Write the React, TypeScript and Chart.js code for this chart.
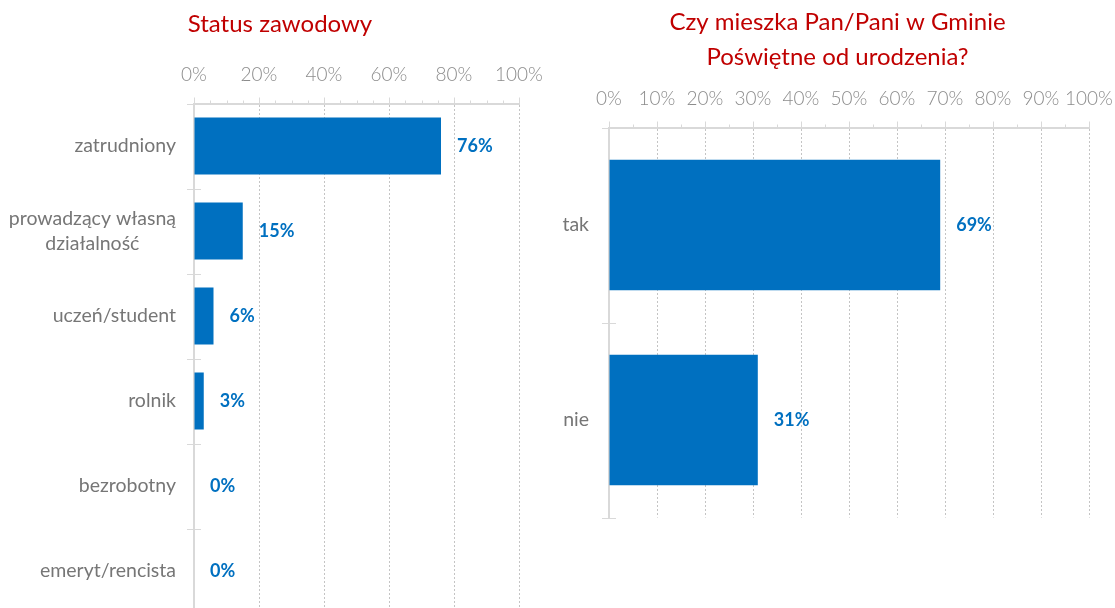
import React, { useEffect, useRef } from "react";
import { Chart, registerables } from "chart.js";
Chart.register(...registerables);

// ---- data ----
const statusTitle = ["Status zawodowy"];
const statusCategories = [
  ["zatrudniony"],
  ["prowadzący własną", "działalność"],
  ["uczeń/student"],
  ["rolnik"],
  ["bezrobotny"],
  ["emeryt/rencista"],
];
const statusValues = [76, 15, 6, 3, 0, 0];
const statusMajorTicks = [0, 20, 40, 60, 80, 100];

const birthTitle = ["Czy mieszka Pan/Pani w Gminie", "Poświętne od urodzenia?"];
const birthCategories = [["tak"], ["nie"]];
const birthValues = [69, 31];
const birthMajorTicks = [0, 10, 20, 30, 40, 50, 60, 70, 80, 90, 100];

const BLUE = "#0070c0";
const AXIS = "#d9d9d9";
const FONT = "Lato, 'Open Sans', sans-serif";

const decorPlugin = {
  id: "decor",
  afterDraw(chart: any, _args: any, opts: any) {
    const ctx = chart.ctx;
    const { left, top, bottom } = chart.chartArea;
    const xs = chart.scales.x;
    ctx.save();
    // titles
    ctx.fillStyle = "#c00000";
    ctx.font = `24px ${FONT}`;
    ctx.textAlign = "center";
    ctx.textBaseline = "middle";
    opts.title.forEach((t: string, i: number) =>
      ctx.fillText(t, chart.width / 2, opts.titleY[i])
    );
    // x-axis tick marks (major + minor)
    ctx.strokeStyle = AXIS;
    ctx.lineWidth = 1;
    xs.ticks.forEach((t: any) => {
      const x = Math.round(xs.getPixelForValue(t.value)) + 0.5;
      const major = opts.major.includes(t.value);
      ctx.beginPath();
      ctx.moveTo(x, top - (major ? 6 : 3));
      ctx.lineTo(x, top);
      ctx.stroke();
    });
    // category boundary ticks crossing the y axis
    const n = chart.data.labels.length;
    for (let i = 0; i <= n; i++) {
      const y = Math.round(top + ((bottom - top) * i) / n) + 0.5;
      ctx.beginPath();
      ctx.moveTo(left - 7, y);
      ctx.lineTo(left + 7, y);
      ctx.stroke();
    }
    // category labels: block right-aligned, lines centred within the block
    const ys = chart.scales.y;
    ctx.font = `19.5px ${FONT}`;
    ctx.fillStyle = "#767676";
    ctx.textAlign = "center";
    const lh = 25;
    chart.data.labels.forEach((lab: string[], i: number) => {
      const yc = ys.getPixelForValue(i);
      const w = Math.max(...lab.map((s) => ctx.measureText(s).width));
      const xc = left - opts.labelGap - w / 2;
      lab.forEach((s, j) => {
        ctx.fillText(s, xc, yc + (j - (lab.length - 1) / 2) * lh);
      });
    });
    // data labels
    const meta = chart.getDatasetMeta(0);
    ctx.font = `bold 18px ${FONT}`;
    ctx.fillStyle = BLUE;
    ctx.textAlign = "left";
    const vals = chart.data.datasets[0].data;
    meta.data.forEach((bar: any, i: number) => {
      ctx.fillText(`${vals[i]}%`, bar.x + 16, bar.y);
    });
    ctx.restore();
  },
};

function makeConfig(p: any): any {
  return {
    type: "bar",
    data: {
      labels: p.labels,
      datasets: [
        {
          data: p.values,
          backgroundColor: BLUE,
          barPercentage: 0.67,
          categoryPercentage: 1,
        },
      ],
    },
    plugins: [decorPlugin],
    options: {
      indexAxis: "y",
      responsive: false,
      animation: false,
      devicePixelRatio: 1,
      layout: { padding: p.padding },
      plugins: {
        legend: { display: false },
        tooltip: { enabled: false },
        title: { display: false },
        decor: {
          title: p.title,
          titleY: p.titleY,
          major: p.major,
          labelGap: p.labelGap,
        },
      },
      scales: {
        x: {
          position: "top",
          min: 0,
          max: 100,
          afterFit: (s: any) => {
            s.height = p.xAxisHeight;
            s.paddingLeft = 0;
            s.paddingRight = 0;
          },
          ticks: {
            stepSize: 5,
            autoSkip: false,
            maxRotation: 0,
            padding: 17,
            color: "#8c8c8c",
            font: { family: FONT, size: 19, weight: "300" },
            callback: (v: number) => (p.major.includes(v) ? `${v}%` : ""),
          },
          grid: {
            drawTicks: false,
            lineWidth: 1,
            color: (c: any) =>
              c.tick && c.tick.value !== 0 && p.major.includes(c.tick.value)
                ? "#c4c4c4"
                : "rgba(0,0,0,0)",
          },
          border: { display: true, color: AXIS, width: 2, dash: [2, 2] },
        },
        y: {
          afterFit: (s: any) => {
            s.width = p.yAxisWidth;
          },
          ticks: { display: false },
          grid: { display: false, drawTicks: false },
          border: { display: true, color: AXIS, width: 2 },
        },
      },
    },
  };
}

function BarChart(props: any) {
  const ref = useRef<HTMLCanvasElement>(null);
  useEffect(() => {
    const chart = new Chart(ref.current as HTMLCanvasElement, makeConfig(props.cfg));
    return () => chart.destroy();
  }, []);
  return (
    <canvas
      ref={ref}
      width={props.w}
      height={props.h}
      style={{
        position: "absolute",
        left: props.x,
        top: 0,
        width: props.w,
        height: props.h,
      }}
    />
  );
}

export default function App() {
  const left = {
    labels: statusCategories,
    values: statusValues,
    major: statusMajorTicks,
    title: statusTitle,
    titleY: [24],
    padding: { left: 0, right: 41, top: 0, bottom: 26.5 },
    xAxisHeight: 103.5,
    yAxisWidth: 194,
    labelGap: 18,
  };
  const right = {
    labels: birthCategories,
    values: birthValues,
    major: birthMajorTicks,
    title: birthTitle,
    titleY: [22, 57],
    padding: { left: 0, right: 26, top: 0, bottom: 90.5 },
    xAxisHeight: 127.5,
    yAxisWidth: 49,
    labelGap: 20,
  };
  return (
    <div
      style={{
        position: "fixed",
        left: 0,
        top: 0,
        width: 1115,
        height: 608,
        overflow: "hidden",
        background: "#fff",
      }}
    >
      <BarChart cfg={left} x={0} w={560} h={640} />
      <BarChart cfg={right} x={560} w={555} h={608} />
    </div>
  );
}
